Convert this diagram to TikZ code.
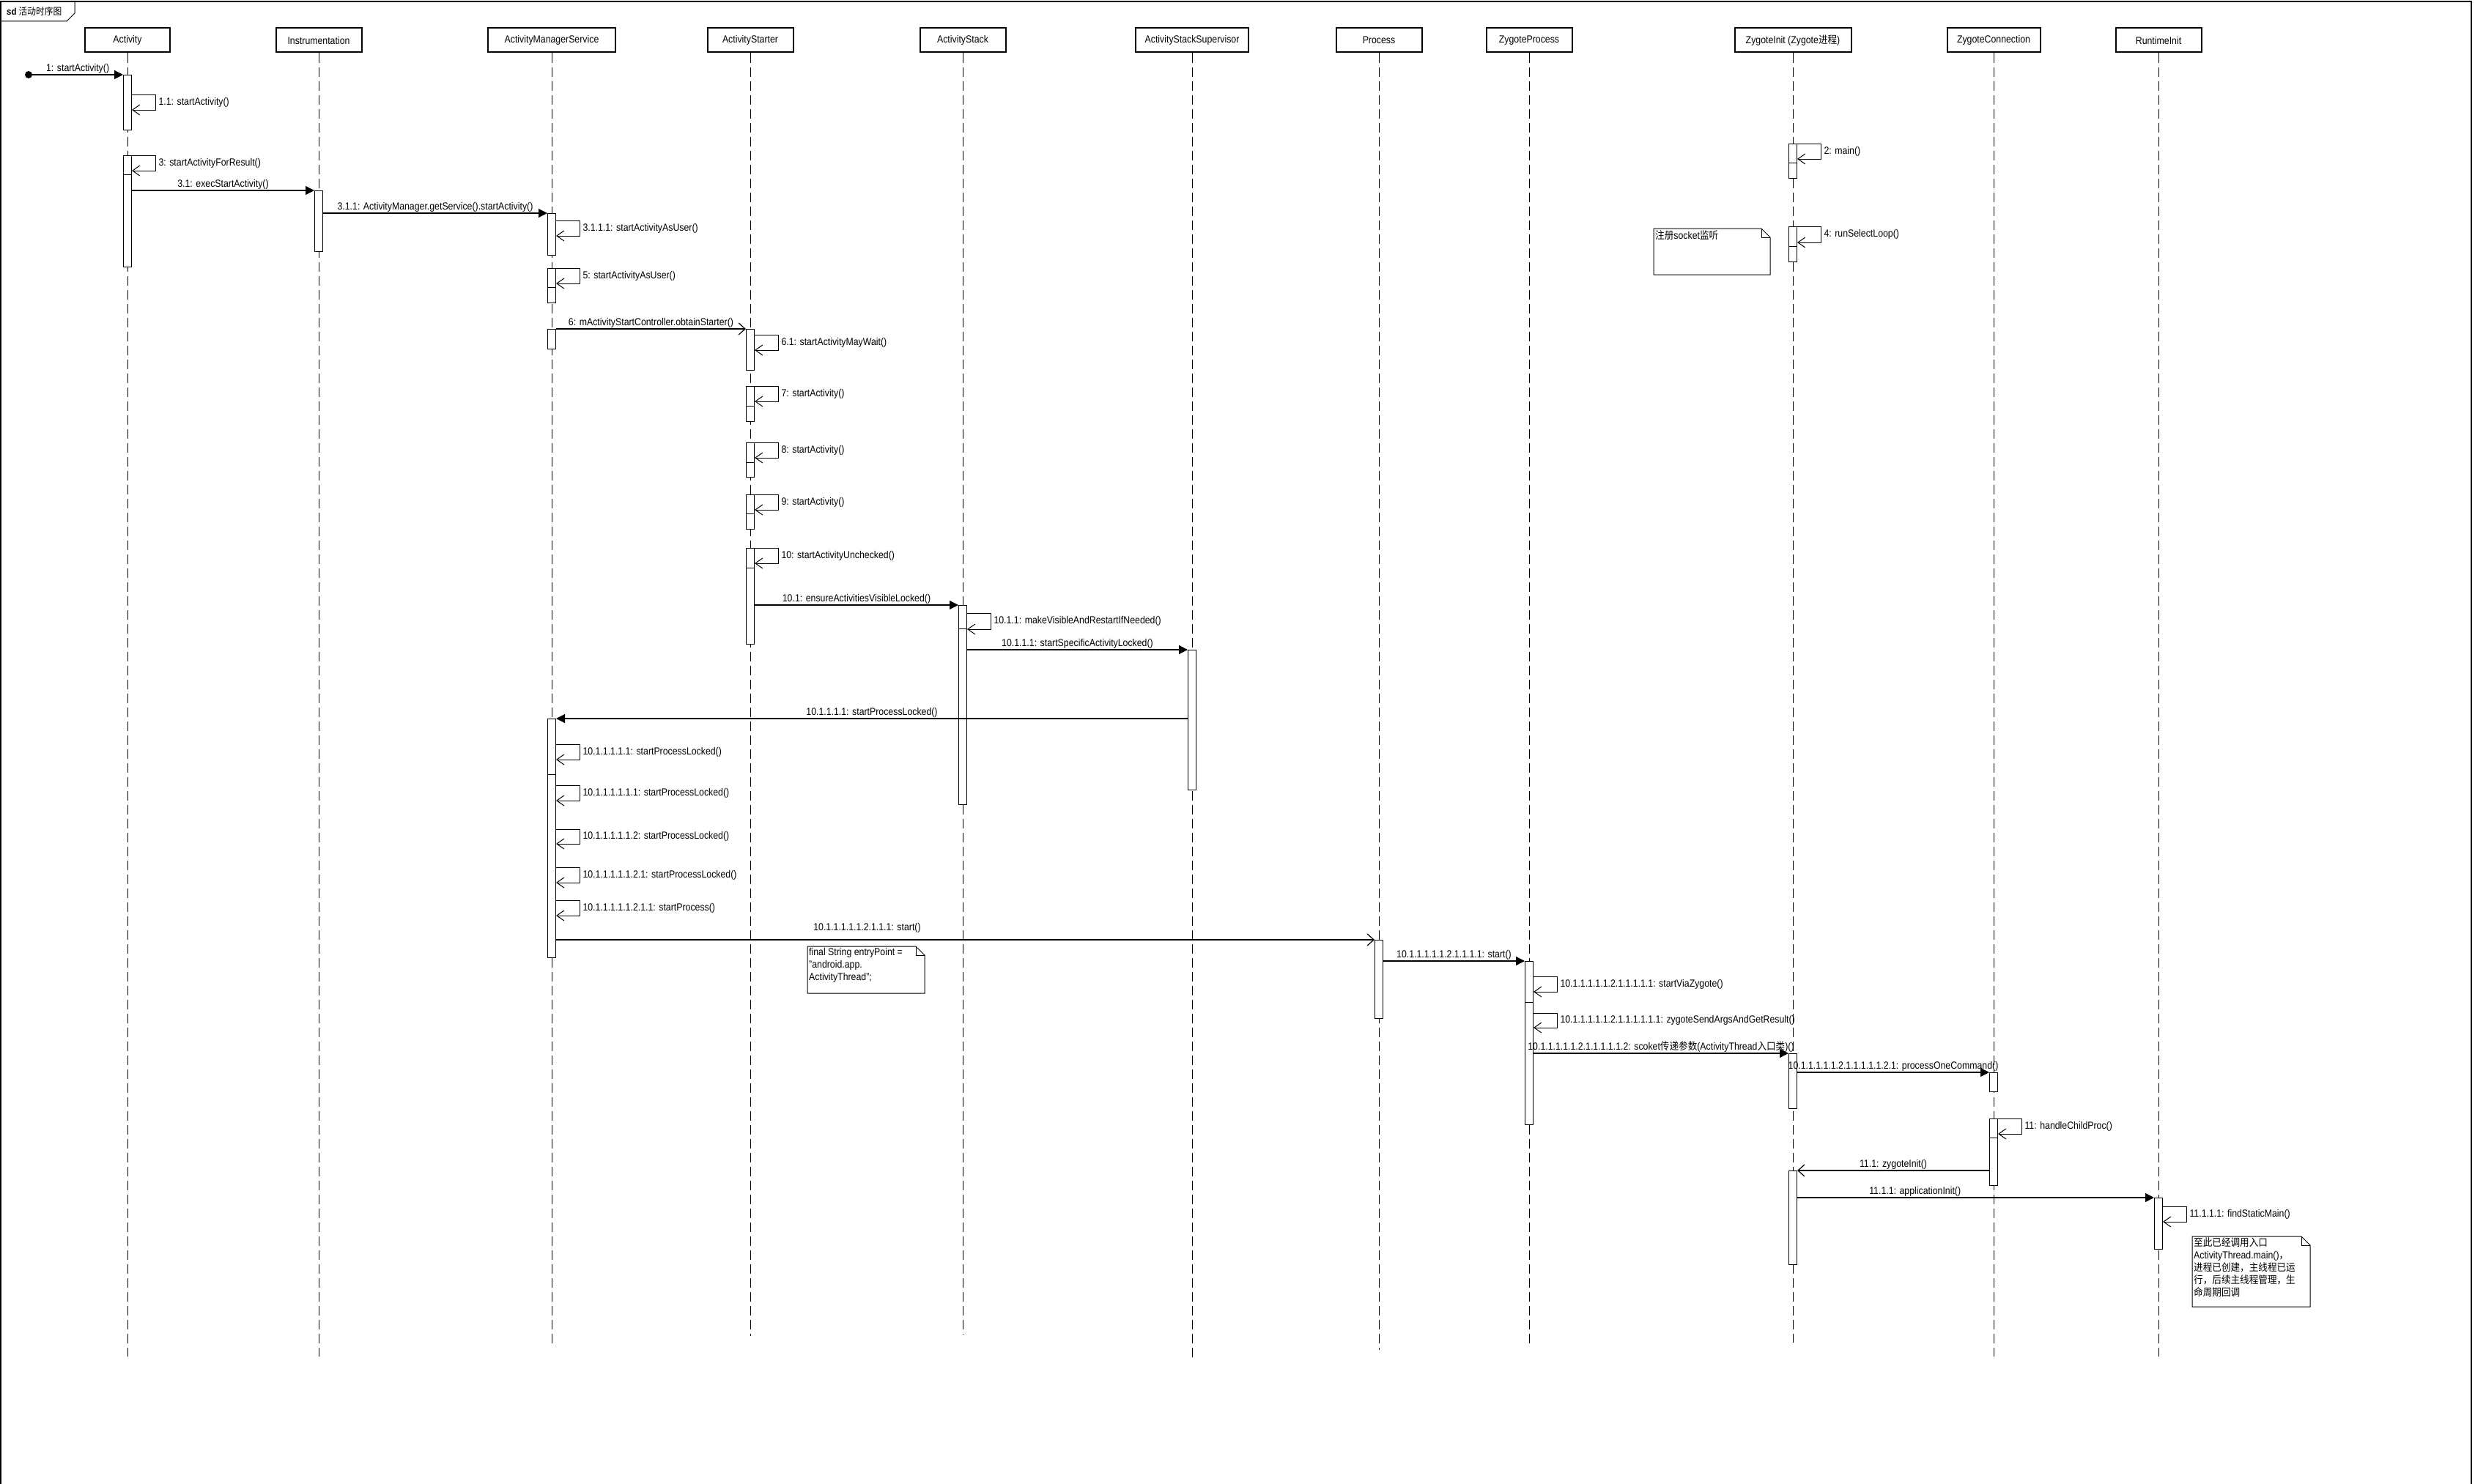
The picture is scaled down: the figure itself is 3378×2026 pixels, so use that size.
\documentclass[tikz,border=0pt]{standalone}
\usepackage{fontspec}
\setmainfont{Liberation Sans}[FakeStretch=0.88]
\newfontfamily\cjk{Noto Sans CJK SC}[FakeStretch=0.9]
\usetikzlibrary{arrows.meta}

\tikzset{
    head/.style={draw, line width=2pt, fill=white, minimum height=33pt, inner sep=2pt, font=\fontsize{14}{16}\selectfont},
    life/.style={line width=1pt, dash pattern=on 13pt off 6pt},
    bar/.style={draw, fill=white, line width=1pt, minimum width=11pt, inner sep=0pt, anchor=north},
    call/.style={line width=1.2pt, -{Triangle[length=12pt,width=12pt]}},
    async/.style={line width=1.2pt, -{Straight Barb[length=9pt,width=16pt]}},
    back/.style={line width=1pt, -{Straight Barb[length=10pt,width=14pt]}},
    lbl/.style={font=\fontsize{14}{17}\selectfont, inner sep=1pt},
    notetext/.style={font=\fontsize{14}{17}\selectfont, inner sep=2pt, anchor=north west, align=left}
}

\begin{document}
\begin{tikzpicture}[x=1pt, y=-1pt]
    \useasboundingbox (0,0) rectangle (3378,2026);
    % frame
    \draw[line width=1.5pt] (1,2026) -- (1,2) -- (3373,2) -- (3373,2026);
    \draw[line width=1pt] (1,29) -- (91,29) -- (102,18) -- (102,2);
    \node[anchor=west, font=\fontsize{13}{15}\selectfont, inner sep=0pt] (title) at (9,16) {\textbf{sd} {\cjk 活动时序图}};

    % lifelines
    \foreach \n/\x/\w/\e/\t in {act/174/116/1852/Activity, ins/435/117/1852/Instrumentation,
        ams/753/174/1835/ActivityManagerService, ast/1024/117/1824/ActivityStarter,
        stk/1314/117/1821/ActivityStack, sup/1627/154/1853/ActivityStackSupervisor,
        proc/1882/117/1843/Process, zp/2087/117/1838/ZygoteProcess,
        zi/2447/159/1833/{ZygoteInit (Zygote{\cjk 进程})}, zc/2721/127/1852/ZygoteConnection,
        ri/2946/117/1852/RuntimeInit} {
        \node[head, minimum width=\w] (\n) at (\x,55) {\t};
        \draw[life] (\n) -- (\n |- 0,\e);
    }

    % activations
    \foreach \b/\h/\t/\e in {act1/act/102/177, act2/act/212/364, ins1/ins/260/343,
        ams1/ams/291/348, ams2/ams/366/413, ams3/ams/449/476, ast1/ast/449/505,
        ast2/ast/527/575, ast3/ast/604/651, ast4/ast/675/722, ast5/ast/748/879,
        stk1/stk/826/1098, sup1/sup/887/1078, ams4/ams/981/1307, zia/zi/196/243,
        zib/zi/309/357, proc1/proc/1283/1390, zp1/zp/1312/1535, zi1/zi/1438/1513,
        zc1/zc/1464/1490, zc2/zc/1527/1618, zi2/zi/1598/1726, ri1/ri/1635/1705} {
        \node[bar, minimum height=\e-\t] (\b) at (\h |- 0,\t) {};
    }
    \foreach \b/\y in {act2/238, ams2/392, ast2/554, ast3/631, ast4/701, ast5/775,
        stk1/858, ams4/1057, zp1/1368, zia/222, zib/336, zc2/1553} {
        \draw[line width=1pt] (\b.west |- 0,\y) -- (\b.east |- 0,\y);
    }

    % self calls
    \foreach \b/\p/\q/\t in {act1/129/150/{1.1: startActivity()}, act2/212/233/{3: startActivityForResult()},
        ams1/301/322/{3.1.1.1: startActivityAsUser()}, ams2/366/387/{5: startActivityAsUser()},
        ast1/457/478/{6.1: startActivityMayWait()}, ast2/527/548/{7: startActivity()},
        ast3/604/625/{8: startActivity()}, ast4/675/696/{9: startActivity()},
        ast5/748/769/{10: startActivityUnchecked()}, stk1/837/859/{10.1.1: makeVisibleAndRestartIfNeeded()},
        ams4/1016/1037/{10.1.1.1.1.1: startProcessLocked()}, ams4/1072/1093/{10.1.1.1.1.1.1: startProcessLocked()},
        ams4/1132/1152/{10.1.1.1.1.1.2: startProcessLocked()}, ams4/1184/1205/{10.1.1.1.1.1.2.1: startProcessLocked()},
        ams4/1229/1250/{10.1.1.1.1.1.2.1.1: startProcess()}, zia/196/217/{2: main()},
        zib/309/331/{4: runSelectLoop()}, zp1/1333/1354/{10.1.1.1.1.1.2.1.1.1.1.1: startViaZygote()},
        zp1/1383/1403/{10.1.1.1.1.1.2.1.1.1.1.1.1: zygoteSendArgsAndGetResult()},
        zc2/1527/1548/{11: handleChildProc()}, ri1/1647/1668/{11.1.1.1: findStaticMain()}} {
        \draw[back] (\b.east |- 0,\p) -- ++(32,0) |- node[lbl, pos=0.25, right, xshift=3pt] {\t} (\b.east |- 0,\q);
    }

    % messages
    \node[circle, fill, inner sep=0pt, minimum size=10pt] (start) at (39,102) {};
    \draw[call] (start) -- (act1.north west) node[lbl, midway, above] {1: startActivity()};
    \draw[call] (act2.east |- ins1.north) -- (ins1.north west) node[lbl, midway, above] {3.1: execStartActivity()};
    \draw[call] (ins1.east |- ams1.north) -- (ams1.north west) node[lbl, midway, above] {3.1.1: ActivityManager.getService().startActivity()};
    \draw[async] (ams3.north east) -- (ast1.north west) node[lbl, midway, above] {6: mActivityStartController.obtainStarter()};
    \draw[call] (ast5.east |- stk1.north) -- (stk1.north west) node[lbl, midway, above] {10.1: ensureActivitiesVisibleLocked()};
    \draw[call] (stk1.east |- sup1.north) -- (sup1.north west) node[lbl, midway, above] {10.1.1.1: startSpecificActivityLocked()};
    \draw[call] (sup1.west |- ams4.north) -- (ams4.north east) node[lbl, midway, above] {10.1.1.1.1: startProcessLocked()};
    \draw[async] (ams4.east |- proc1.north) -- (proc1.north west) node[lbl, pos=0.38, above, yshift=8pt] {10.1.1.1.1.1.2.1.1.1: start()};
    \draw[call] (proc1.east |- zp1.north) -- (zp1.north west) node[lbl, midway, above] {10.1.1.1.1.1.2.1.1.1.1: start()};
    \draw[call] (zp1.east |- zi1.north) -- (zi1.north west) node[lbl, midway, above] {10.1.1.1.1.1.2.1.1.1.1.1.2: scoket{\cjk 传递参数}(ActivityThread{\cjk 入口类})()};
    \draw[call] (zi1.east |- zc1.north) -- (zc1.north west) node[lbl, midway, above] {10.1.1.1.1.1.2.1.1.1.1.1.2.1: processOneCommand()};
    \draw[async] (zc2.west |- zi2.north) -- (zi2.north east) node[lbl, midway, above] {11.1: zygoteInit()};
    \draw[call] (zi2.east |- ri1.north) -- (ri1.north west) node[lbl, pos=0.33, above] {11.1.1: applicationInit()};

    % notes
    \foreach \x/\y/\u/\v/\n in {2257/312/2416/375/sock, 1102/1292/1262/1356/entry, 2992/1688/3153/1784/done} {
        \draw[line width=1pt, fill=white] (\x,\y) -- (\u-12,\y) -- (\u,\y+12) -- (\u,\v) -- (\x,\v) -- cycle;
        \draw[line width=1pt] (\u-12,\y) -- (\u-12,\y+12) -- (\u,\y+12);
        \coordinate (\n) at (\x,\y);
    }
    \node[notetext] (socktext) at (sock) {{\cjk 注册}socket{\cjk 监听}};
    \node[notetext] (entrytext) at (entry) {final String entryPoint =\\"android.app.\\ActivityThread";};
    \node[notetext] (donetext) at (done) {{\cjk 至此已经调用入口}\\ActivityThread.main(){\cjk ，}\\{\cjk 进程已创建，主线程已运}\\{\cjk 行，后续主线程管理，生}\\{\cjk 命周期回调}};
\end{tikzpicture}
\end{document}
